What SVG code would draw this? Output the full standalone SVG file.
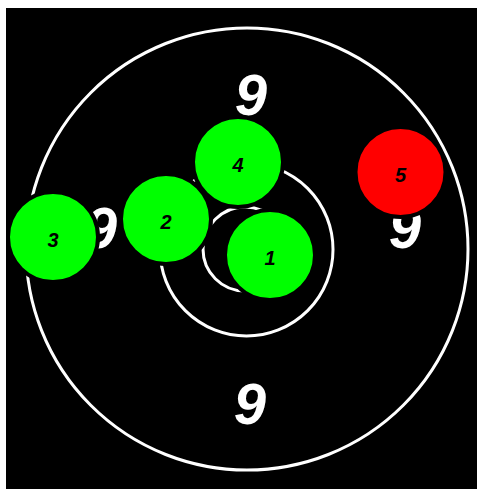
<svg xmlns="http://www.w3.org/2000/svg" width="477" height="489" viewBox="0 0 477 489">
<style>
.ring{fill:none;stroke:#fff;stroke-width:3}
.nine{font-family:"Liberation Sans",Arial,sans-serif;font-weight:bold;font-style:italic;font-size:58px;fill:#fff;text-anchor:middle}
.shot{stroke:#000;stroke-width:4}
.lbl{font-family:"Liberation Sans",Arial,sans-serif;font-weight:bold;font-style:italic;font-size:20px;fill:#000;text-anchor:middle}
</style>
<rect x="0" y="0" width="477" height="489" fill="#fff"/>
<rect x="6" y="8" width="471" height="481" fill="#000"/>
<g id="target">
<circle class="ring" cx="247" cy="249" r="221"/>
<circle class="ring" cx="246.5" cy="249.5" r="86.5"/>
<circle class="ring" cx="245" cy="249" r="42"/>
<text class="nine" x="251" y="115">9</text>
<text class="nine" x="101" y="248">9</text>
<text class="nine" x="405" y="248">9</text>
<text class="nine" x="250" y="424">9</text>
</g>
<g id="connectors"></g>
<g id="shot1"><circle class="shot" cx="270" cy="255" r="45" fill="#00ff00"/><text class="lbl" x="270" y="265">1</text></g>
<g id="shot2"><circle class="shot" cx="166" cy="219" r="45" fill="#00ff00"/><text class="lbl" x="166" y="229">2</text></g>
<g id="shot3"><circle class="shot" cx="53" cy="237" r="45" fill="#00ff00"/><text class="lbl" x="53" y="247">3</text></g>
<g id="shot4"><circle class="shot" cx="238" cy="162" r="45" fill="#00ff00"/><text class="lbl" x="238" y="172">4</text></g>
<g id="shot5"><circle class="shot" cx="400.5" cy="172" r="45" fill="#ff0000"/><text class="lbl" x="400.5" y="182">5</text></g>
</svg>
